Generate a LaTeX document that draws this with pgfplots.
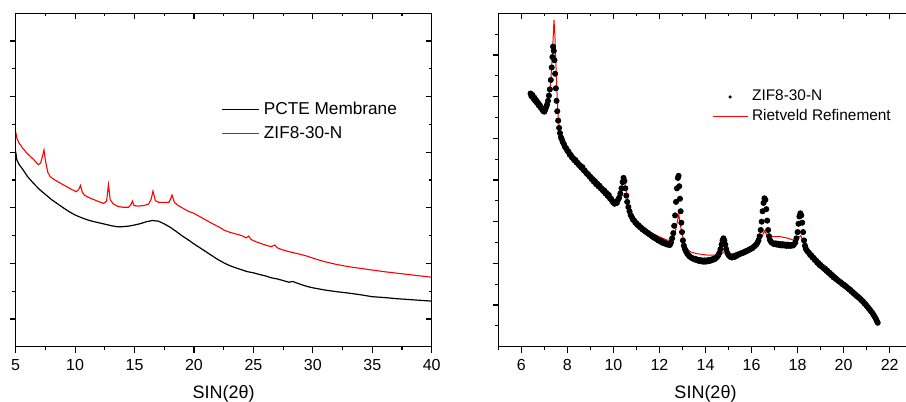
\documentclass[border=0pt]{standalone}
\usepackage{pgfplots}
\pgfplotsset{compat=1.18}
\usepackage{fontspec}
\setmainfont{Liberation Sans}

\pgfplotsset{
  xrd/.style={
    scale only axis, height=166.7pt,
    axis line style={line width=0.6pt},
    every tick/.style={black, line width=0.6pt},
    every minor tick/.style={black, line width=0.6pt},
    major tick length=2.9pt, minor tick length=1.6pt,
    tick label style={font=\fontsize{8}{9}\selectfont},
    /pgf/number format/assume math mode=true,
    yticklabels={},
    label style={font=\fontsize{9}{10}\selectfont},
    xlabel style={at={(axis description cs:0.5,-0.1425)}, anchor=center},
    legend cell align=left,
  },
  mirror/.style={xtick pos=top, ytick pos=right, tick align=inside,
    xticklabels={}, yticklabels={}},
  longline/.style={legend image code/.code={\draw[##1] (0pt,0pt) -- (18.8pt,0pt);}},
  shortline/.style={legend image code/.code={\draw[##1] (0pt,0pt) -- (17.5pt,0pt);}},
  dotentry/.style={legend image code/.code={\fill[black] (8.75pt,0pt) circle (0.6pt);}},
}

\begin{document}
\begin{tikzpicture}

% left panel
\begin{axis}[xrd, at={(0pt,0pt)}, width=208pt,
  xmin=5, xmax=40, ymin=0, ymax=12,
  xtick={5,10,...,40}, minor xtick={7.5,12.5,...,37.5},
  ytick={1,3,...,11}, minor ytick={2,4,...,10},
  xtick pos=bottom, ytick pos=left, tick align=outside,
  xlabel={SIN(2θ)},
  legend style={draw=none, fill=none, font=\fontsize{8.6}{10}\selectfont,
    at={(0.493,0.6755)}, anchor=west, row sep=0.7pt, inner sep=0pt},
  longline,
]
\addplot[black, line width=0.6pt] coordinates {
(5.0,7.02) (5.1,6.72) (5.3,6.55) (5.6,6.38) (6.0,6.12) (6.5,5.88) (7.0,5.66)
(7.5,5.48) (8.0,5.30) (8.5,5.15) (9.0,5.00) (9.5,4.86) (10.0,4.74) (10.5,4.65)
(11.0,4.57) (11.5,4.51) (12.0,4.46) (12.5,4.41) (13.0,4.36) (13.5,4.32) (14.0,4.32)
(14.5,4.34) (15.0,4.38) (15.5,4.43) (16.0,4.50) (16.5,4.54) (17.0,4.52) (17.5,4.42)
(18.0,4.30) (18.5,4.15) (19.0,3.99) (19.5,3.85) (20.0,3.70) (20.5,3.56) (21.0,3.42)
(21.5,3.28) (22.0,3.14) (22.5,3.02) (23.0,2.92) (23.5,2.84) (24.0,2.77) (24.5,2.70)
(25.0,2.66) (25.5,2.60) (26.0,2.55) (26.5,2.48) (27.0,2.44) (27.5,2.38) (28.0,2.32)
(28.3,2.35) (28.6,2.30) (29.0,2.24) (29.5,2.17) (30.0,2.12) (31,2.04) (32,1.98)
(33,1.93) (34,1.87) (35,1.80) (36,1.77) (37,1.73) (38,1.70) (39,1.67) (40,1.64)
};
\addlegendentry{PCTE Membrane}
\addplot[red, line width=0.55pt] coordinates {
(5.0,7.74) (5.1,7.50) (5.3,7.32) (5.6,7.14) (6.0,6.94) (6.5,6.74) (6.9,6.55)
(7.1,6.62) (7.25,6.85) (7.38,7.08) (7.5,6.70) (7.7,6.28) (7.9,6.12) (8.3,6.00)
(8.7,5.90) (9.2,5.78) (9.7,5.66) (10.1,5.58) (10.3,5.66) (10.45,5.80) (10.6,5.56)
(10.8,5.45) (11.2,5.36) (11.6,5.29) (12.0,5.22) (12.4,5.16) (12.65,5.24) (12.8,5.83)
(12.95,5.30) (13.2,5.14) (13.6,5.05) (14.0,5.02) (14.5,5.02) (14.7,5.12) (14.82,5.24)
(14.95,5.08) (15.3,5.06) (15.8,5.08) (16.2,5.14) (16.4,5.32) (16.55,5.60) (16.75,5.26)
(17.0,5.20) (17.5,5.19) (17.9,5.20) (18.05,5.34) (18.15,5.46) (18.35,5.20) (18.6,5.10)
(19.0,5.00) (19.5,4.88) (20.0,4.80) (20.5,4.68) (21.0,4.56) (21.5,4.44) (22.0,4.33)
(22.3,4.26) (22.5,4.20) (23.0,4.12) (23.5,4.06) (24.0,4.00) (24.4,3.92) (24.6,3.98)
(24.8,3.86) (25.2,3.78) (25.6,3.72) (26.0,3.66) (26.5,3.60) (26.8,3.66) (27.0,3.56)
(27.5,3.48) (28.0,3.42) (28.4,3.38) (29.0,3.32) (29.5,3.26) (30.0,3.19) (30.5,3.12)
(31,3.06) (32,2.96) (33,2.88) (34,2.82) (35,2.76) (36,2.70) (37,2.65) (38,2.60)
(39,2.55) (40,2.50)
};
\addlegendentry{ZIF8-30-N}
\end{axis}
\begin{axis}[xrd, mirror, at={(0pt,0pt)}, width=208pt,
  xmin=5, xmax=40, ymin=0, ymax=12,
  xtick={5,10,...,40}, minor xtick={7.5,12.5,...,37.5},
  ytick={1,3,...,11}, minor ytick={2,4,...,10}]
\end{axis}

% right panel
\begin{axis}[xrd, at={(241.3pt,0pt)}, width=207.2pt,
  xmin=5, xmax=23, ymin=0, ymax=16,
  xtick={6,8,...,22}, minor xtick={5,7,...,23},
  ytick={2,4,...,14}, minor ytick={1,3,...,15},
  xtick pos=bottom, ytick pos=left, tick align=outside,
  xlabel={SIN(2θ)},
  legend style={draw=none, fill=none, font=\fontsize{7.7}{9}\selectfont,
    at={(0.515,0.719)}, anchor=west, row sep=-1pt, inner sep=0pt},
]
\addplot[only marks, mark=*, mark size=1.3pt, black, dotentry] coordinates {
(6.40,12.15) (6.44,12.02) (6.48,12.08) (6.52,11.92) (6.56,11.96) (6.60,11.80) (6.64,11.84)
(6.68,11.70) (6.72,11.72) (6.76,11.58) (6.80,11.60) (6.84,11.48) (6.88,11.45) (6.92,11.36)
(6.96,11.30) (7.00,11.28) (7.04,11.38) (7.08,11.50) (7.12,11.62) (7.16,11.80) (7.20,12.05)
(7.24,12.35) (7.28,12.80) (7.32,13.40) (7.35,13.90) (7.38,14.40) (7.41,14.20) (7.44,13.75)
(7.47,13.10) (7.50,12.40) (7.53,11.80) (7.56,11.30) (7.60,10.85) (7.64,10.50) (7.68,10.25)
(7.72,10.05) (7.76,9.95) (7.80,9.82) (7.85,9.72) (7.90,9.58) (7.95,9.52) (8.00,9.40)
(8.05,9.36) (8.10,9.22) (8.15,9.20) (8.20,9.08) (8.25,9.05) (8.30,8.95) (8.35,8.96)
(8.40,8.84) (8.45,8.82) (8.50,8.72) (8.55,8.70) (8.60,8.60) (8.65,8.62) (8.70,8.48)
(8.75,8.46) (8.80,8.38) (8.85,8.30) (8.90,8.28) (8.95,8.18) (9.00,8.15) (9.05,8.05)
(9.10,8.04) (9.15,7.92) (9.20,7.94) (9.25,7.80) (9.30,7.82) (9.35,7.70) (9.40,7.72)
(9.45,7.60) (9.50,7.58) (9.55,7.48) (9.60,7.50) (9.65,7.36) (9.70,7.38) (9.75,7.24)
(9.80,7.28) (9.85,7.12) (9.90,7.10) (9.95,6.98) (10.00,6.92) (10.05,6.86) (10.10,6.95)
(10.15,6.90) (10.20,7.05) (10.25,7.15) (10.30,7.35) (10.35,7.60) (10.40,7.90) (10.44,8.10)
(10.48,7.95) (10.52,7.60) (10.56,7.25) (10.60,6.95) (10.65,6.70) (10.70,6.50) (10.75,6.32)
(10.80,6.22) (10.85,6.10) (10.90,6.05) (10.95,5.96) (11.00,5.92) (11.05,5.84) (11.10,5.82)
(11.15,5.74) (11.20,5.72) (11.25,5.64) (11.30,5.62) (11.35,5.56) (11.40,5.54) (11.45,5.48)
(11.50,5.46) (11.55,5.40) (11.60,5.38) (11.65,5.32) (11.70,5.30) (11.75,5.24) (11.80,5.24)
(11.85,5.18) (11.90,5.16) (11.95,5.10) (12.00,5.10) (12.05,5.04) (12.10,5.06) (12.15,4.98)
(12.20,5.00) (12.25,4.94) (12.30,4.96) (12.35,4.90) (12.40,4.92) (12.45,4.88) (12.50,5.00)
(12.55,5.20) (12.60,5.45) (12.64,5.80) (12.68,6.30) (12.72,6.95) (12.76,7.60) (12.80,8.10)
(12.83,8.20) (12.86,7.70) (12.89,7.10) (12.92,6.50) (12.95,5.95) (12.98,5.50) (13.02,5.10)
(13.06,4.85) (13.10,4.70) (13.15,4.58) (13.20,4.48) (13.25,4.40) (13.30,4.34) (13.35,4.30)
(13.40,4.26) (13.45,4.24) (13.50,4.20) (13.55,4.22) (13.60,4.16) (13.65,4.18) (13.70,4.12)
(13.75,4.16) (13.80,4.10) (13.85,4.14) (13.90,4.08) (13.95,4.14) (14.00,4.08) (14.05,4.14)
(14.10,4.10) (14.15,4.16) (14.20,4.12) (14.25,4.18) (14.30,4.16) (14.35,4.22) (14.40,4.20)
(14.45,4.26) (14.50,4.30) (14.55,4.38) (14.60,4.50) (14.65,4.68) (14.70,4.90) (14.74,5.10)
(14.78,5.20) (14.82,5.10) (14.86,4.90) (14.90,4.68) (14.95,4.50) (15.00,4.40) (15.05,4.34)
(15.10,4.30) (15.15,4.28) (15.20,4.32) (15.25,4.30) (15.30,4.36) (15.35,4.36) (15.40,4.42)
(15.45,4.42) (15.50,4.46) (15.55,4.48) (15.60,4.50) (15.65,4.52) (15.70,4.54) (15.75,4.58)
(15.80,4.60) (15.85,4.62) (15.90,4.66) (15.95,4.68) (16.00,4.72) (16.05,4.74) (16.10,4.80)
(16.15,4.84) (16.20,4.90) (16.25,4.98) (16.30,5.10) (16.35,5.30) (16.40,5.60) (16.44,6.00)
(16.48,6.50) (16.52,6.90) (16.56,7.12) (16.60,7.05) (16.64,6.60) (16.68,6.05) (16.72,5.60)
(16.76,5.30) (16.80,5.12) (16.85,5.02) (16.90,4.98) (16.95,4.94) (17.00,4.92) (17.05,4.96)
(17.10,4.90) (17.15,4.94) (17.20,4.88) (17.25,4.92) (17.30,4.86) (17.35,4.92) (17.40,4.86)
(17.45,4.90) (17.50,4.84) (17.55,4.90) (17.60,4.84) (17.65,4.88) (17.70,4.84) (17.75,4.88)
(17.80,4.86) (17.85,4.92) (17.90,5.00) (17.95,5.20) (18.00,5.50) (18.04,5.90) (18.08,6.25)
(18.12,6.40) (18.16,6.30) (18.20,5.95) (18.24,5.50) (18.28,5.10) (18.32,4.85) (18.36,4.70)
(18.40,4.62) (18.45,4.55) (18.50,4.50) (18.55,4.40) (18.60,4.38) (18.65,4.28) (18.70,4.26)
(18.75,4.16) (18.80,4.14) (18.85,4.04) (18.90,4.02) (18.95,3.92) (19.00,3.92) (19.05,3.84)
(19.10,3.82) (19.15,3.74) (19.20,3.74) (19.25,3.64) (19.30,3.64) (19.35,3.54) (19.40,3.54)
(19.45,3.44) (19.50,3.44) (19.55,3.34) (19.60,3.34) (19.65,3.26) (19.70,3.24) (19.75,3.18)
(19.80,3.14) (19.85,3.10) (19.90,3.06) (19.95,3.00) (20.00,2.98) (20.05,2.92) (20.10,2.90)
(20.15,2.84) (20.20,2.80) (20.25,2.74) (20.30,2.72) (20.35,2.64) (20.40,2.62) (20.45,2.54)
(20.50,2.52) (20.55,2.44) (20.60,2.42) (20.65,2.36) (20.70,2.32) (20.75,2.26) (20.80,2.20)
(20.85,2.16) (20.90,2.08) (20.95,2.04) (21.00,1.96) (21.05,1.90) (21.10,1.82) (21.15,1.76)
(21.20,1.68) (21.25,1.62) (21.30,1.52) (21.35,1.44) (21.40,1.34) (21.44,1.24) (21.48,1.15)
};
\addlegendentry{ZIF8-30-N}
\addplot[red, line width=0.5pt, shortline] coordinates {
(6.38,12.13) (6.5,11.95) (6.7,11.68) (6.9,11.44) (6.98,11.36) (7.08,11.55) (7.18,11.95)
(7.27,12.6) (7.34,13.8) (7.39,15.0) (7.42,15.68) (7.46,14.9) (7.51,13.3) (7.56,11.9)
(7.61,10.88) (7.68,10.3) (7.75,10.0) (7.85,9.72) (7.97,9.44) (8.3,9.03) (8.62,8.64)
(9.0,8.18) (9.34,7.82) (9.7,7.40) (10.0,6.98) (10.15,6.95) (10.25,7.10) (10.35,7.5)
(10.46,8.08) (10.55,7.5) (10.65,6.85) (10.8,6.28) (11.0,5.95) (11.16,5.79) (11.44,5.58)
(11.8,5.38) (12.03,5.26) (12.32,5.12) (12.5,5.12) (12.65,5.35) (12.75,5.85) (12.84,6.35)
(12.93,5.7) (13.05,5.1) (13.18,4.72) (13.35,4.55) (13.6,4.47) (14.05,4.40) (14.56,4.40)
(14.72,4.48) (14.85,4.61) (14.98,4.48) (15.14,4.45) (15.5,4.56) (15.93,4.78) (16.2,4.90)
(16.37,5.10) (16.48,5.35) (16.56,5.55) (16.66,5.38) (16.80,5.28) (17.0,5.28) (17.25,5.28)
(17.53,5.22) (17.8,5.12) (17.95,5.14) (18.05,5.25) (18.14,5.33) (18.25,5.05) (18.40,4.64)
(18.6,4.39) (18.97,3.92) (19.3,3.62) (19.55,3.36) (19.85,3.10) (20.13,2.88) (20.4,2.62)
(20.71,2.32) (21.0,1.98) (21.25,1.60) (21.47,1.12)
};
\addlegendentry{Rietveld Refinement}
\end{axis}
\begin{axis}[xrd, mirror, at={(241.3pt,0pt)}, width=207.2pt,
  xmin=5, xmax=23, ymin=0, ymax=16,
  xtick={6,8,...,22}, minor xtick={5,7,...,23},
  ytick={2,4,...,14}, minor ytick={1,3,...,15}]
\end{axis}

\pgfresetboundingbox
\useasboundingbox (-7.85pt,-27.65pt) rectangle (445.15pt,173.35pt);
\end{tikzpicture}
\end{document}
